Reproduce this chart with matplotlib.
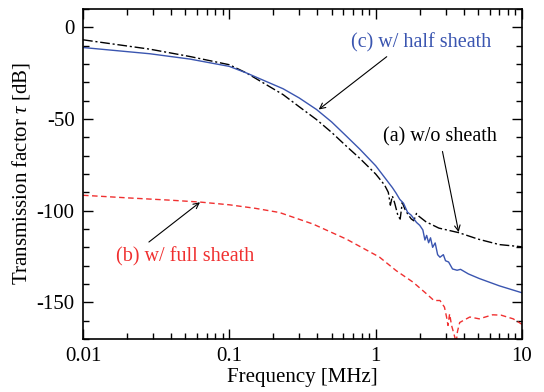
import matplotlib
matplotlib.use('Agg')
import matplotlib.pyplot as plt
from matplotlib.ticker import FixedLocator, NullFormatter, LogLocator

plt.rcParams['font.family'] = ['Liberation Serif', 'DejaVu Serif']
plt.rcParams['mathtext.fontset'] = 'custom'
plt.rcParams['mathtext.it'] = 'Liberation Serif:italic'
plt.rcParams['mathtext.rm'] = 'Liberation Serif'
plt.rcParams['axes.unicode_minus'] = False

# (a) w/o sheath
freq_a = [0.01, 0.0286, 0.0537, 0.1, 0.131, 0.233, 0.3, 0.394, 0.5, 0.63, 0.78, 1.0, 1.15,
          1.22, 1.26, 1.3, 1.35, 1.42, 1.47, 1.52, 1.58, 1.66, 1.75, 1.82, 1.9, 1.97,
          2.2, 2.7, 3.7, 5.0, 7.0, 10.0]
tau_a = [-6.8, -11.9, -15.9, -20.4, -24.9, -36.7, -43.3, -50.3, -57.3, -64.8, -71.5, -80.0, -86.0,
         -90.0, -97.0, -92.0, -96.0, -102.8, -104.6, -95.5, -99.0, -102.0, -104.5, -105.5, -101.5, -103.0,
         -106.0, -109.5, -112.0, -115.5, -118.5, -119.7]

# (c) w/ half sheath
freq_c = [0.01, 0.0286, 0.0537, 0.1, 0.131, 0.233, 0.3, 0.394, 0.5, 0.63, 0.78, 1.0, 1.18,
          1.3, 1.38, 1.46, 1.55, 1.65, 1.75, 1.9, 2.0, 2.1, 2.17, 2.23, 2.3, 2.37, 2.45,
          2.55, 2.65, 2.75, 2.9, 3.0, 3.15, 3.35, 3.6, 3.8, 4.3, 5.1, 7.0, 10.0]
tau_c = [-11.0, -14.4, -17.3, -21.3, -24.9, -33.5, -38.5, -44.8, -51.6, -59.3, -66.5, -75.5, -83.0,
         -87.4, -90.5, -93.8, -96.0, -100.8, -102.5, -106.4, -108.0, -110.5, -116.0, -113.5, -117.5, -114.8, -120.0,
         -117.6, -124.0, -125.4, -124.0, -127.3, -128.0, -131.8, -132.5, -132.0, -134.5, -137.0, -141.0, -144.8]

# (b) w/ full sheath
freq_b = [0.01, 0.02, 0.04, 0.063, 0.1, 0.15, 0.22, 0.373, 0.63, 1.06, 1.38, 1.8, 2.2,
          2.5, 2.75, 2.95, 3.05, 3.12, 3.2, 3.3, 3.42, 3.55, 3.62, 3.75,
          3.95, 4.4, 5.1, 6.3, 7.2, 8.7, 10.0]
tau_b = [-91.6, -93.0, -94.3, -95.3, -96.8, -98.7, -101.0, -107.3, -115.5, -125.3, -132.7, -139.0, -145.0,
         -149.0, -149.0, -152.6, -158.0, -162.6, -156.3, -162.6, -167.0, -172.0, -166.0, -161.0,
         -160.0, -158.0, -159.0, -156.8, -157.0, -159.0, -162.0]

blue = '#3a55b0'
red = '#f03030'

fig = plt.figure(figsize=(5.44, 3.92), dpi=100)
ax = fig.add_axes([0.1526, 0.1352, 0.8070, 0.8418])

ax.semilogx(freq_a, tau_a, color='black', lw=1.0, dashes=(7, 2, 1.5, 2))
ax.semilogx(freq_c, tau_c, color=blue, lw=1.0)
ax.semilogx(freq_b, tau_b, color=red, lw=1.0, dashes=(4, 2.5))

ax.set_xlim(0.01, 10)
ax.set_ylim(-170, 10)
ax.set_xticks([0.01, 0.1, 1, 10])
ax.set_xticklabels(['0.01', '0.1', '1', '10'])
ax.xaxis.set_minor_locator(LogLocator(base=10, subs=range(2, 10)))
ax.xaxis.set_minor_formatter(NullFormatter())
ax.set_yticks([0, -50, -100, -150])
ax.yaxis.set_minor_locator(FixedLocator(range(-170, 11, 10)))

ax.tick_params(which='both', direction='in', top=True, right=True, labelsize=15, width=1.0)
ax.tick_params(which='major', length=7, pad=6)
ax.tick_params(which='minor', length=4)
for s in ax.spines.values():
    s.set_linewidth(1.2)

ax.set_xlabel('Frequency [MHz]', fontsize=15, labelpad=1)
ax.set_ylabel(r'Transmission factor $\tau$ [dB]', fontsize=15, labelpad=3)

arrow = dict(arrowstyle='->', color='black', lw=0.8, shrinkA=0, shrinkB=0)
ax.annotate('', xy=(0.408, -44.8), xytext=(1.19, -16), arrowprops=arrow)
ax.text(2.05, -8.4, '(c) w/ half sheath', color=blue, fontsize=14.5, ha='center', va='center')

ax.annotate('', xy=(3.69, -111.7), xytext=(2.86, -67.7), arrowprops=arrow)
ax.text(2.73, -59.5, '(a) w/o sheath', color='black', fontsize=14.5, ha='center', va='center')

ax.annotate('', xy=(0.063, -95.4), xytext=(0.0282, -117.1), arrowprops=arrow)
ax.text(0.0496, -125.3, '(b) w/ full sheath', color=red, fontsize=14.5, ha='center', va='center')

fig.savefig('out.png', dpi=100)
